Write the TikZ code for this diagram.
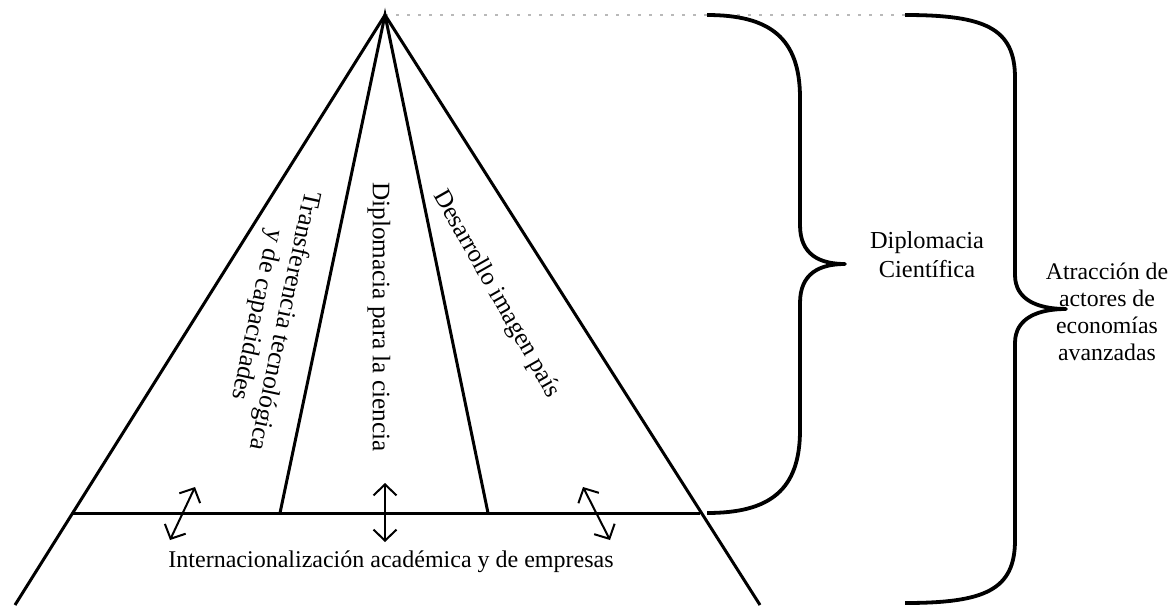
\documentclass[tikz,border=0pt]{standalone}
\usepackage{fontspec}
\setmainfont{Liberation Serif}
\usetikzlibrary{arrows.meta}

\tikzset{
	pyr/.style={line width=1.5pt},
	curly/.style={line width=1.9pt, line join=round},
	twoway/.style={line width=1pt, {Straight Barb[length=5.5pt,width=11.5pt]}-{Straight Barb[length=5.5pt,width=11.5pt]}},
	guide/.style={gray!55, line width=0.7pt, dash pattern=on 1.5pt off 4pt},
	txt/.style={inner sep=0pt, align=center}
}

\begin{document}
\begin{tikzpicture}[x=0.5pt, y=-0.5pt]
		\useasboundingbox (0,0) rectangle (1171,605);
		
		% pyramid
		\coordinate (top) at (385,15);
		\coordinate (bl) at (15,605);
		\coordinate (br) at (760,605);
		\coordinate (ll) at (73,513);
		\coordinate (rr) at (700,513);
		\coordinate (ml) at (280,513);
		\coordinate (mr) at (488,513);
		\coordinate (b1top) at (707,15);
		\coordinate (b1tip) at (845,264);
		\coordinate (b1bot) at (707,513);
		\coordinate (b2top) at (905,15);
		\coordinate (b2tip) at (1066,309);
		\coordinate (b2bot) at (905,603);
		
		\draw[guide] (top) -- (b2top);
		\draw[pyr] (bl) -- (top) -- (br);
		\draw[pyr] (ml) -- (top) -- (mr);
		\draw[pyr] (ll) -- (rr);
		
		% sectors
		\node[txt, rotate=-102, font=\fontsize{12.8}{14}\selectfont] (transf) at (270,318) {Transferencia tecnológica\\y de capacidades};
		\node[txt, rotate=-90, font=\fontsize{12.6}{14}\selectfont] (dipcien) at (379,317) {Diplomacia para la ciencia};
		\node[txt, rotate=-60.5, font=\fontsize{12.6}{14}\selectfont] (imagen) at (496,294) {Desarrollo imagen país};
		
		% base
		\coordinate (a1s) at (170,540); \coordinate (a1e) at (195,487);
		\coordinate (a2s) at (385,542); \coordinate (a2e) at (385,483);
		\coordinate (a3s) at (610,540); \coordinate (a3e) at (583,487);
		\draw[twoway] (a1s) -- (a1e);
		\draw[twoway] (a2s) -- (a2e);
		\draw[twoway] (a3s) -- (a3e);
		\node[txt, anchor=base, font=\fontsize{12}{14}\selectfont] (intl) at (391,567) {Internacionalización académica y de empresas};
		
		% braces
		\draw[curly] (b1top) .. controls (770,15) and (800,38) .. (800,98) -- (800,225)
			.. controls (800,255) and (820,264) .. (b1tip)
			.. controls (820,264) and (800,273) .. (800,303) -- (800,430)
			.. controls (800,490) and (770,513) .. (b1bot);
		\draw[curly] (b2top) .. controls (985,15) and (1015,28) .. (1015,78) -- (1015,275)
			.. controls (1015,300) and (1038,309) .. (b2tip)
			.. controls (1038,309) and (1015,318) .. (1015,343) -- (1015,540)
			.. controls (1015,590) and (985,603) .. (b2bot);
		\node[txt, font=\fontsize{12.2}{14.5}\selectfont] (dipsci) at (927,255) {Diplomacia\\Científica};
		\node[txt, font=\fontsize{11.9}{13.5}\selectfont] (atrac) at (1107,312) {Atracción de\\actores de\\economías\\avanzadas};
	\end{tikzpicture}
\end{document}
